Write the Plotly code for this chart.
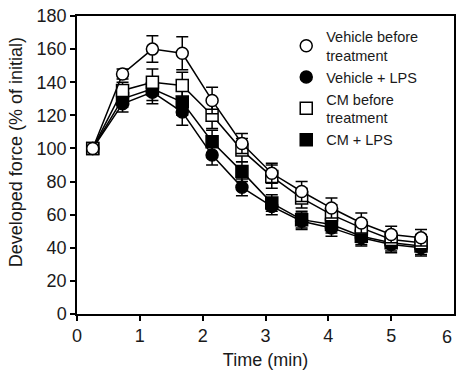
import plotly.graph_objects as go

time_min = [0.25, 0.725, 1.2, 1.675, 2.15, 2.625, 3.1, 3.575, 4.05, 4.525, 5.0, 5.475]

veh_before = [100, 145, 160, 157.5, 129, 103, 85, 74, 64, 55, 48, 46]
veh_before_err = [0, 3, 8, 10, 8, 6, 6, 6, 6, 6, 5, 5]

veh_lps = [100, 127, 134, 122, 96, 76.5, 65, 56, 52, 46, 42, 40]
veh_lps_err = [0, 5, 7, 8, 6, 5, 5, 5, 5, 5, 5, 5]

cm_before = [100, 135, 140, 138, 120, 99, 83, 70, 60, 52, 45, 43]
cm_before_err = [0, 5, 8, 8, 8, 7, 7, 6, 6, 5, 5, 5]

cm_lps = [100, 130, 136, 128, 104, 86, 67, 57, 54, 47, 43, 41]
cm_lps_err = [0, 5, 7, 8, 7, 6, 5, 5, 5, 5, 5, 5]

x_ticks = [0, 1, 2, 3, 4, 5, 6]
y_ticks = list(range(0, 181, 20))

series = [
    ("CM + LPS", cm_lps, cm_lps_err, "square", "black"),
    ("Vehicle + LPS", veh_lps, veh_lps_err, "circle", "black"),
    ("CM before<br>treatment", cm_before, cm_before_err, "square", "white"),
    ("Vehicle before<br>treatment", veh_before, veh_before_err, "circle", "white"),
]
legend_order = [3, 1, 2, 0]

TXT = "#1a1a1a"

fig = go.Figure()
for name, vals, errs, sym, fill in series:
    fig.add_trace(go.Scatter(
        x=time_min, y=vals, mode="lines+markers", showlegend=False,
        line=dict(color="black", width=1.5),
        marker=dict(symbol=sym, size=12, color=fill, line=dict(color="black", width=1.5)),
        error_y=dict(type="data", array=errs, visible=True, color="black", thickness=1.5, width=6),
        hoverinfo="skip",
    ))

for i in legend_order:
    name, vals, errs, sym, fill = series[i]
    fig.add_trace(go.Scatter(
        x=[None], y=[None], mode="markers", name=name,
        marker=dict(symbol=sym, size=12, color=fill, line=dict(color="black", width=1.5)),
    ))

# last x tick label, kept just inside the right figure edge
fig.add_annotation(x=1.0, y=-0.077, xref="paper", yref="paper", text=str(x_ticks[-1]),
                   showarrow=False, xanchor="right", yanchor="middle",
                   font=dict(size=18, color=TXT))

# y-axis title
fig.add_annotation(x=-0.161, y=0.544, xref="paper", yref="paper",
                   text="Developed force (% of initial)", textangle=-90,
                   showarrow=False, xanchor="center", yanchor="middle",
                   font=dict(size=18, color=TXT))

fig.update_layout(
    width=457, height=374,
    margin=dict(l=77, r=1, t=16, b=60),
    paper_bgcolor="white", plot_bgcolor="white",
    font=dict(family="Liberation Sans, Arial, sans-serif", size=18, color=TXT),
    legend=dict(x=0.555, y=0.985, xanchor="left", yanchor="top", traceorder="normal",
                bgcolor="rgba(0,0,0,0)", font=dict(size=14.5, color=TXT), itemwidth=30,
                tracegroupgap=0),
    xaxis=dict(range=[0, 6], tickvals=x_ticks[:-1], ticks="outside", ticklen=5,
               tickwidth=1.5, tickcolor="black", showline=True, linecolor="black", linewidth=1.5,
               mirror=True, showgrid=False, zeroline=False, tickfont=dict(size=18),
               title=dict(text="Time (min)", font=dict(size=18), standoff=8)),
    yaxis=dict(range=[0, 180], tickvals=y_ticks, ticks="outside", ticklen=5,
               tickwidth=1.5, tickcolor="black", showline=True, linecolor="black", linewidth=1.5,
               mirror=True, showgrid=False, zeroline=False, tickfont=dict(size=18)),
)

fig.write_html("out.html", config={"displayModeBar": False},
               post_script="document.body.style.margin='0';")
